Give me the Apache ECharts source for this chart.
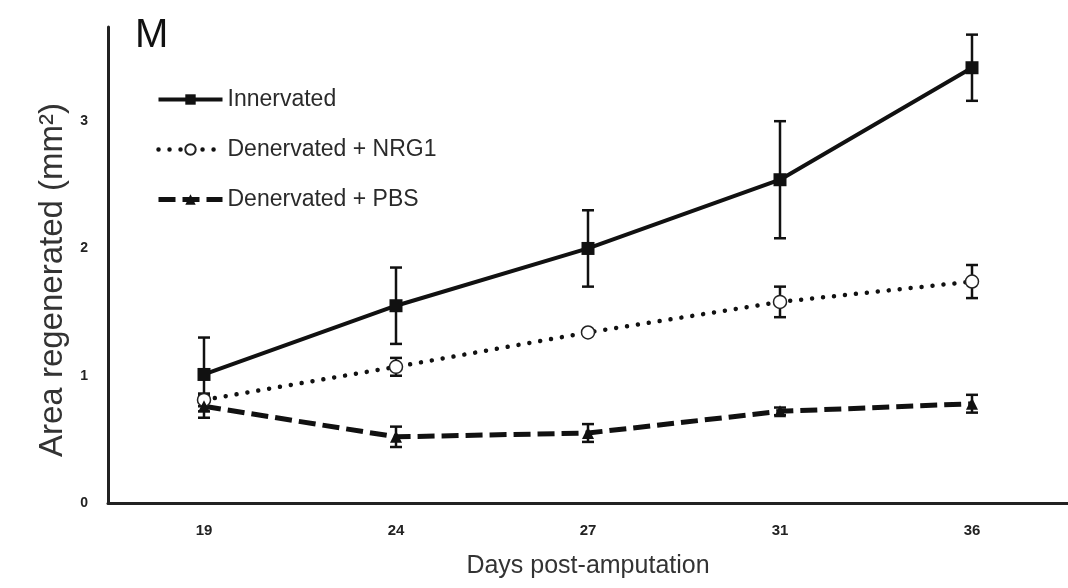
<!DOCTYPE html>
<html>
<head>
<meta charset="utf-8">
<script src="https://cdn.jsdelivr.net/npm/echarts@6/dist/echarts.min.js"></script>
<style>
  html, body { margin: 0; padding: 0; background: #fff; }
  #chart { width: 1068px; height: 588px; }
</style>
</head>
<body>
<div id="chart"></div>
<script>
// days post-amputation
var days = ['19', '24', '27', '31', '36']
var yTicks = [0, 1, 2, 3]

// mean area regenerated (mm2) and error (+/-)
var innervated = [1.01, 1.55, 2.0, 2.54, 3.42]
var innervatedErr = [0.29, 0.30, 0.30, 0.46, 0.26]
var nrg1 = [0.81, 1.07, 1.34, 1.58, 1.74]
var nrg1Err = [0.05, 0.07, 0.02, 0.12, 0.13]
var pbs = [0.76, 0.52, 0.55, 0.72, 0.78]
var pbsErr = [0.09, 0.08, 0.07, 0.03, 0.07]

function errData(vals, errs) {
  return vals.map(function (v, i) { return [i, v - errs[i], v + errs[i]] })
}

function errSeries(vals, errs) {
  return {
    type: 'custom',
    silent: true,
    z: 3,
    data: errData(vals, errs),
    renderItem: function (params, api) {
      var lo = api.coord([api.value(0), api.value(1)])
      var hi = api.coord([api.value(0), api.value(2)])
      var w = 6
      var style = { stroke: '#111', lineWidth: 2.5 }
      return {
        type: 'group',
        children: [
          { type: 'line', shape: { x1: hi[0], y1: hi[1], x2: lo[0], y2: lo[1] }, style: style },
          { type: 'line', shape: { x1: hi[0] - w, y1: hi[1], x2: hi[0] + w, y2: hi[1] }, style: style },
          { type: 'line', shape: { x1: lo[0] - w, y1: lo[1], x2: lo[0] + w, y2: lo[1] }, style: style }
        ]
      }
    }
  }
}

var chart = echarts.init(document.getElementById('chart'))
var option = {
  animation: false,
  backgroundColor: '#fff',
  textStyle: { fontFamily: 'Liberation Sans, Arial, sans-serif' },
  title: {
    text: 'M',
    left: 130,
    top: 11,
    textStyle: { fontSize: 40, fontWeight: 'normal', color: '#111' }
  },
  legend: {
    data: ['Innervated', 'Denervated + NRG1', 'Denervated + PBS'],
    orient: 'vertical',
    left: 156,
    top: 88,
    padding: 0,
    itemWidth: 64,
    itemHeight: 13,
    itemGap: 27,
    lineStyle: { width: 'inherit' },
    textStyle: { fontSize: 23, color: '#2a2a2a' }
  },
  grid: { left: 108, top: 27, width: 965, bottom: 85 },
  xAxis: {
    type: 'category',
    data: days,
    boundaryGap: true,
    name: 'Days post-amputation',
    nameLocation: 'middle',
    nameGap: 51,
    nameTextStyle: { fontSize: 25, color: '#333' },
    axisLine: { lineStyle: { color: '#222', width: 3 } },
    axisTick: { show: false },
    axisLabel: { fontSize: 15, fontWeight: 'bold', color: '#222', margin: 20 }
  },
  yAxis: {
    type: 'value',
    min: 0,
    max: 3.74,
    interval: 1,
    name: 'Area regenerated (mm²)',
    nameLocation: 'middle',
    nameRotate: 90,
    nameGap: 36,
    nameTextStyle: { fontSize: 33, color: '#333', padding: [0, 0, 0, -30] },
    axisLine: { show: true, lineStyle: { color: '#222', width: 3 } },
    axisTick: { show: false },
    splitLine: { show: false },
    axisLabel: {
      fontSize: 14, fontWeight: 'bold', color: '#222', margin: 20, showMaxLabel: false,
      formatter: function (v) { return yTicks.indexOf(v) >= 0 ? String(v) : '' }
    }
  },
  series: [
    {
      name: 'Innervated',
      type: 'line',
      data: innervated,
      symbol: 'rect',
      symbolSize: 13,
      z: 4,
      itemStyle: { color: '#111' },
      lineStyle: { color: '#111', width: 4 }
    },
    {
      name: 'Denervated + NRG1',
      type: 'line',
      data: nrg1,
      symbol: 'circle',
      symbolSize: 13,
      z: 4,
      itemStyle: { color: '#fff', borderColor: '#222', borderWidth: 1.5 },
      lineStyle: { color: '#111', width: 4.5, type: [0.01, 11], cap: 'round' }
    },
    {
      name: 'Denervated + PBS',
      type: 'line',
      data: pbs,
      symbol: 'triangle',
      symbolSize: 12,
      z: 4,
      itemStyle: { color: '#111' },
      lineStyle: { color: '#111', width: 5, type: [17, 7] }
    },
    errSeries(innervated, innervatedErr),
    errSeries(nrg1, nrg1Err),
    errSeries(pbs, pbsErr)
  ]
}
option && chart.setOption(option)
</script>
</body>
</html>
